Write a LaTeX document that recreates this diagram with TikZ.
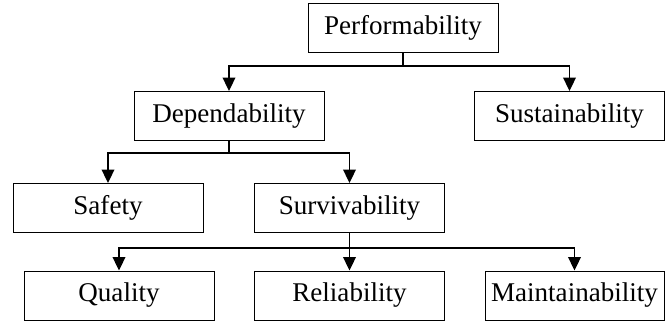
\documentclass[tikz,border=0pt]{standalone}
\usepackage{fontspec}
\setmainfont{Liberation Serif}
\usepackage{tikz}
\usetikzlibrary{arrows.meta}
\tikzset{box/.style={draw,line width=0.5pt,inner sep=0mm,minimum width=3.8cm,minimum height=0.98cm,font=\fontsize{15.4}{18}\selectfont}}
\tikzset{link/.style={line width=1.1pt,-{Triangle[length=0.27cm,width=0.25cm]}}}

\begin{document}
\begin{tikzpicture}[x=0.02cm,y=-0.02cm]
\useasboundingbox (0,0) rectangle (665,321);
\node[box] (perf) at (403,27.5) {Performability};
\node[box] (dep) at (229,116) {Dependability};
\node[box] (sus) at (569.5,116) {Sustainability};
\node[box] (safe) at (108,208) {Safety};
\node[box] (surv) at (349.5,208) {Survivability};
\node[box] (qual) at (119,295.5) {Quality};
\node[box] (rel) at (349.5,295.5) {Reliability};
\node[box,minimum width=3.58cm] (maint) at (574.5,295.5) {Maintainability};
%junctions
\coordinate (j1) at (403,66);
\coordinate (j2) at (229,153);
\coordinate (j3) at (349.5,248);
\draw[line width=1.1pt] (perf) -- (j1);
\draw[link] (j1) -| (dep);
\draw[link] (j1) -| (sus);
\draw[line width=1.1pt] (dep) -- (j2);
\draw[link] (j2) -| (safe);
\draw[link] (j2) -| (surv);
\draw[link] (surv) -- (rel);
\draw[link] (j3) -| (qual);
\draw[link] (j3) -| (maint);
\end{tikzpicture}
\end{document}
